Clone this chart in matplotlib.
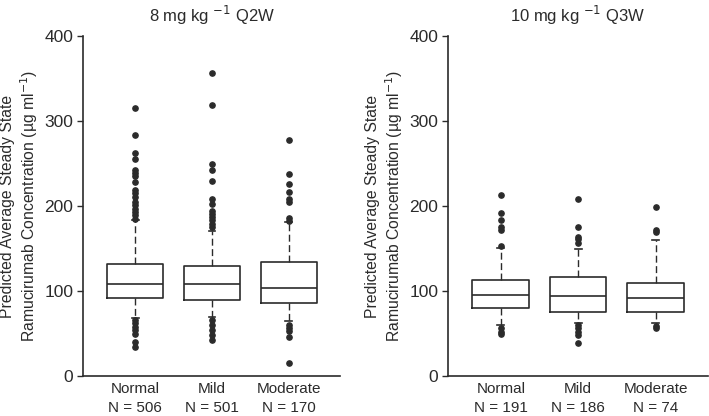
import matplotlib.pyplot as plt

plt.rcParams['font.family'] = ['Liberation Sans', 'DejaVu Sans']

groups = ['Normal', 'Mild', 'Moderate']

# 8 mg/kg Q2W
n_q2w = [506, 501, 170]
q1_q2w = [92, 89, 86]
med_q2w = [108, 108, 104]
q3_q2w = [132, 130, 134.5]
lo_q2w = [68.5, 70, 65]
hi_q2w = [183.5, 170.5, 181]
fl_q2w = [
    [316, 283.5, 262, 255, 242, 239, 236, 228.5, 219, 215, 211, 205, 201, 197, 193, 189, 185,
     66, 62, 58, 54, 50, 40, 34.5],
    [357, 319, 249, 243, 230, 208, 202, 194.5, 191, 187, 183.5, 179.5, 175.5,
     66, 60, 54, 48, 43],
    [278, 238, 225.5, 217, 208, 205, 185.5, 183,
     60, 56, 53, 46, 15],
]

# 10 mg/kg Q3W
n_q3w = [191, 186, 74]
q1_q3w = [80.5, 75, 75.5]
med_q3w = [95, 94.5, 92]
q3_q3w = [113, 117, 110]
lo_q3w = [60, 62, 62]
hi_q3w = [151, 150, 160]
fl_q3w = [
    [213.5, 192, 183.5, 175.5, 172, 153, 56, 52, 50],
    [208.5, 175.5, 164, 161, 157, 60, 56, 52, 48, 39.5],
    [199, 172, 169, 59, 56],
]

ylabel = 'Predicted Average Steady State\nRamucirumab Concentration (µg ml$^{-1}$)'
ink = '#2b2b2b'


def draw(ax, title, n, q1, med, q3, lo, hi, fl):
    stats = []
    for i, g in enumerate(groups):
        stats.append(dict(label=g, q1=q1[i], med=med[i], q3=q3[i],
                          whislo=lo[i], whishi=hi[i], fliers=fl[i]))
    ax.bxp(stats, positions=[1, 2, 3], widths=0.73, capwidths=0.09,
           boxprops=dict(color=ink, linewidth=1.2),
           medianprops=dict(color=ink, linewidth=1.2),
           whiskerprops=dict(color=ink, linewidth=1.0, linestyle=(0, (5, 2.5))),
           capprops=dict(color=ink, linewidth=1.2),
           flierprops=dict(marker='o', markersize=3.8, markerfacecolor=ink,
                           markeredgecolor=ink, linestyle='none'))
    ax.set_xlim(0.32, 3.67)
    ax.set_ylim(0, 400)
    ax.set_yticks([0, 100, 200, 300, 400])
    ax.set_xticks([1, 2, 3])
    ax.set_xticklabels([f'{g}\nN = {k}' for g, k in zip(groups, n)],
                       linespacing=1.5)
    ax.tick_params(axis='x', length=0, pad=4, labelsize=11, colors=ink)
    ax.tick_params(axis='y', length=4, width=1, pad=3, labelsize=12.5, colors=ink)
    for s in ['top', 'right']:
        ax.spines[s].set_visible(False)
    for s in ['left', 'bottom']:
        ax.spines[s].set_color(ink)
        ax.spines[s].set_linewidth(1.2)
    ax.set_title(title, fontsize=12, color=ink, pad=10)
    ax.set_ylabel(ylabel, fontsize=11.3, color=ink, labelpad=3)


fig = plt.figure(figsize=(7.09, 4.16), dpi=100)
ax1 = fig.add_axes([0.117, 0.096, 0.363, 0.817])
ax2 = fig.add_axes([0.632, 0.096, 0.366, 0.817])

draw(ax1, '8 mg kg $^{-1}$ Q2W', n_q2w, q1_q2w, med_q2w, q3_q2w, lo_q2w, hi_q2w, fl_q2w)
draw(ax2, '10 mg kg $^{-1}$ Q3W', n_q3w, q1_q3w, med_q3w, q3_q3w, lo_q3w, hi_q3w, fl_q3w)

fig.savefig('out.png', dpi=100)
